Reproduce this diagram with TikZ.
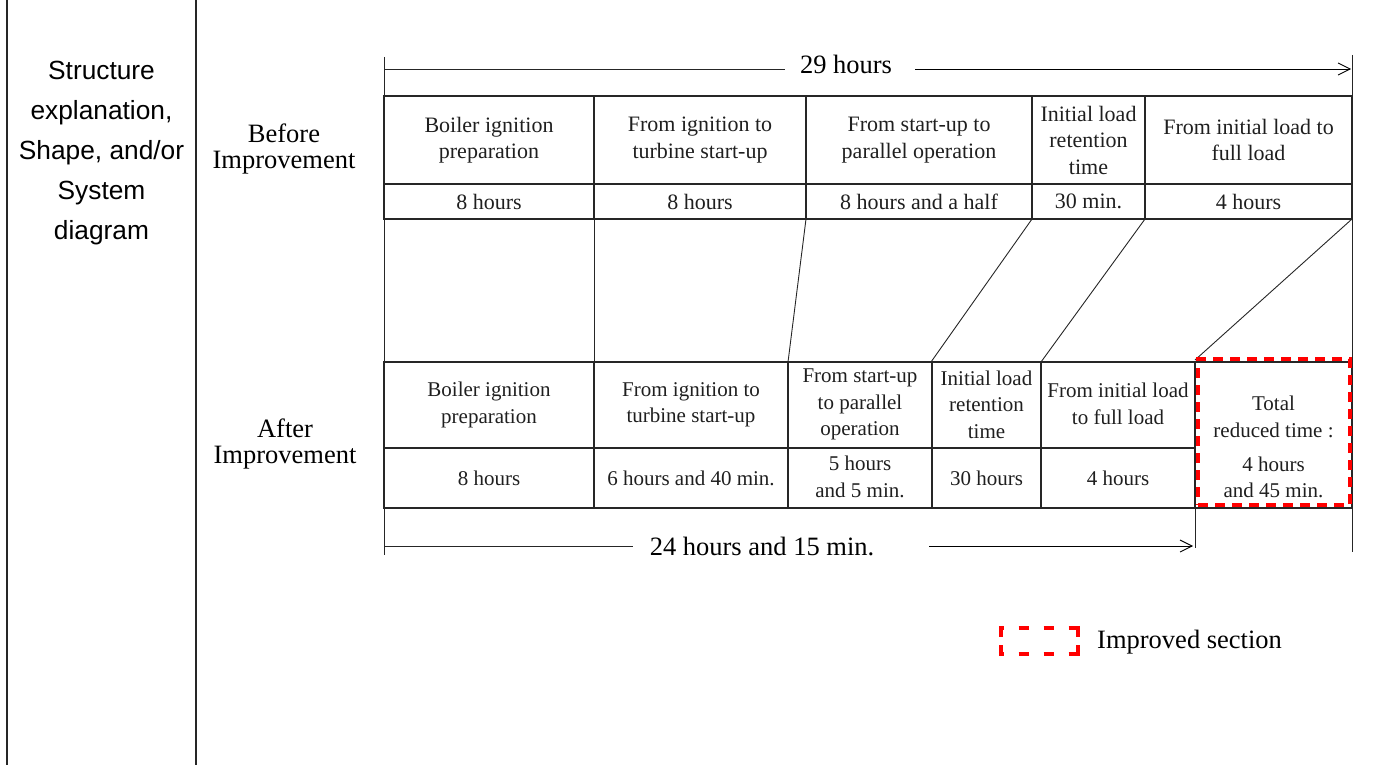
\documentclass[tikz,border=0pt]{standalone}
\usepackage{fontspec}
\setmainfont{Liberation Serif}
\newfontfamily\arialf{Liberation Sans}
\usetikzlibrary{arrows.meta}
\begin{document}
\begin{tikzpicture}[x=1pt,y=-1pt,
  frame/.style={line width=1.8pt, black!85},
  gridln/.style={line width=1.6pt, black!85},
  thinln/.style={line width=0.9pt, black!85},
  cellB/.style={align=center, font=\fontsize{22}{26.5}\selectfont, text=black!88, inner sep=0pt},
  cellA/.style={align=center, font=\fontsize{21}{26.5}\selectfont, text=black!88, inner sep=0pt},
  lab/.style={align=center, font=\fontsize{26.5}{26}\selectfont, text=black, inner sep=0pt},
  dimarrow/.style={line width=0.9pt, -{Straight Barb[length=12pt,width=12pt]}},
  improved/.style={draw=red, line width=4.5pt, dash pattern=on 10pt off 7pt},
  legh/.style={red, line width=4.5pt, dash pattern=on 10pt off 15pt, dash phase=5.25pt},
  legv/.style={red, line width=4.5pt, dash pattern=on 11pt off 8.5pt},
]
\useasboundingbox (0,0) rectangle (1396,765);

% left frame
\draw[frame] (7,0) -- (7,765);
\draw[frame] (196,0) -- (196,765);
\node[font=\arialf\fontsize{26.3}{40}\selectfont, align=center, inner sep=0pt] (hdr) at (101.5,153)
  {Structure\\explanation,\\Shape, and/or\\System\\diagram};

% row labels
\node[lab] (before) at (284,149) {Before\\Improvement};
\node[lab] (after) at (285,443.5) {After\\Improvement};

% long vertical guides
\coordinate (gtl) at (384,57);  \coordinate (gbl) at (384,555);
\coordinate (gtr) at (1352,55); \coordinate (gbr) at (1352,552);
\draw[thinln] (gtl) -- (gbl);
\draw[thinln] (gtr) -- (gbr);

% 29 hours dimension
\node[lab] (h29) at (846,64) {29 hours};
\coordinate (d29a) at (384,69); \coordinate (d29b) at (785,69);
\coordinate (d29c) at (915,69); \coordinate (d29d) at (1351,69);
\draw[thinln] (d29a) -- (d29b);
\draw[dimarrow] (d29c) -- (d29d);

% before table
\draw[gridln] (384,96) rectangle (1352,219);
\draw[gridln] (384,184) -- (1352,184);
\foreach \x in {594,806,1032,1145} \draw[gridln] (\x,96) -- (\x,219);

\node[cellB] (b1) at (489,140) {Boiler ignition\\preparation};
\node[cellB] (b2) at (700,140) {From ignition to\\turbine start-up};
\node[cellB] (b3) at (919,140) {From start-up to\\parallel operation};
\node[cellB] (b4) at (1088.5,140) {Initial load\\retention\\time};
\node[cellB] (b5) at (1248.5,140) {From initial load to\\full load};
\node[cellB] (bt1) at (489,201.5) {8 hours};
\node[cellB] (bt2) at (700,201.5) {8 hours};
\node[cellB] (bt3) at (919,201.5) {8 hours and a half};
\node[cellB] (bt4) at (1088.5,201.5) {30 min.};
\node[cellB] (bt5) at (1248.5,201.5) {4 hours};

% after table
\draw[gridln] (384,362) rectangle (1352,508);
\draw[gridln] (384,448) -- (1195,448);
\foreach \x in {594,788,932,1041,1195} \draw[gridln] (\x,362) -- (\x,508);
\draw[thinln] (1195,508) -- (1195,548);

\node[cellA] (a1) at (489,405) {Boiler ignition\\preparation};
\node[cellA] (a2) at (691,405) {From ignition to\\turbine start-up};
\node[cellA] (a3) at (860,404.5) {From start-up\\to parallel\\operation};
\node[cellA] (a4) at (986.5,404.5) {Initial load\\retention\\time};
\node[cellA] (a5) at (1118,404) {From initial load\\to full load};
\node[cellA] (at1) at (489,478) {8 hours};
\node[cellA] (at2) at (691,478) {6 hours and 40 min.};
\node[cellA] (at3) at (860,477) {5 hours\\and 5 min.};
\node[cellA] (at4) at (986.5,478) {30 hours};
\node[cellA] (at5) at (1118,478) {4 hours};
\node[cellA] (red1) at (1273.5,417) {Total\\reduced time :};
\node[cellA] (red2) at (1273.5,477.5) {4 hours\\and 45 min.};

% connecting lines between tables
\coordinate (u1) at (594,219);  \coordinate (l1) at (594,362);
\coordinate (u2) at (806,219);  \coordinate (l2) at (788,362);
\coordinate (u3) at (1032,219); \coordinate (l3) at (931,362);
\coordinate (u4) at (1145,219); \coordinate (l4) at (1041,362);
\coordinate (u5) at (1352,219); \coordinate (l5) at (1195,360);
\draw[thinln] (u1) -- (l1);
\draw[thinln] (u2) -- (l2);
\draw[thinln] (u3) -- (l3);
\draw[thinln] (u4) -- (l4);
\draw[thinln] (u5) -- (l5);

% improved section box
\node[improved, minimum width=152pt, minimum height=146pt, inner sep=0pt] (redbox) at (1274,432) {};

% 24 hours dimension
\node[lab] (h24) at (762,546) {24 hours and 15 min.};
\coordinate (d24a) at (384,546); \coordinate (d24b) at (633,546);
\coordinate (d24c) at (929,546); \coordinate (d24d) at (1193,546);
\draw[thinln] (d24a) -- (d24b);
\draw[dimarrow] (d24c) -- (d24d);

% legend
\node[minimum width=77pt, minimum height=26pt, inner sep=0pt] (legbox) at (1039.5,641) {};
\coordinate (lnw) at (998.75,628); \coordinate (lne) at (1080.25,628);
\coordinate (lsw) at (998.75,654); \coordinate (lse) at (1080.25,654);
\coordinate (lvnw) at (1001,625.75); \coordinate (lvsw) at (1001,656.25);
\coordinate (lvne) at (1078,625.75); \coordinate (lvse) at (1078,656.25);
\draw[legh] (lnw) -- (lne);
\draw[legh] (lsw) -- (lse);
\draw[legv] (lvnw) -- (lvsw);
\draw[legv] (lvne) -- (lvse);
\node[lab, anchor=west] (legtext) at (1097,642) {Improved section};
\end{tikzpicture}
\end{document}
